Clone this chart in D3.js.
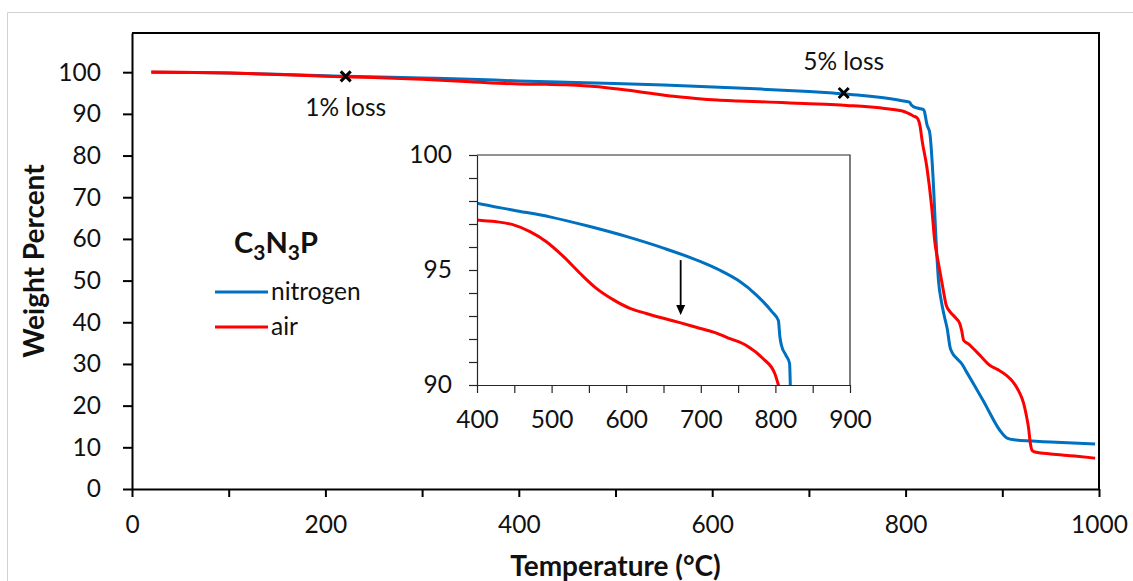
<!DOCTYPE html>
<html>
<head>
<meta charset="utf-8">
<script src="https://cdn.jsdelivr.net/npm/d3@7"></script>
<style>
  html, body { margin: 0; padding: 0; background: #fff; }
  svg { display: block; font-family: Lato, "Open Sans", sans-serif; }
  .tick text { fill: #111; }
</style>
</head>
<body>
<script>
// TGA of C3N3P: weight percent vs temperature, under nitrogen and under air
const nitrogenTemp = [20, 50, 100, 150, 200, 221, 300, 350, 400, 449, 499, 550, 601, 651, 700, 725, 750, 775, 795, 804, 806, 808, 814, 819, 820, 822, 825, 829, 831, 834, 837, 840, 843, 846, 848, 853, 858, 863, 880, 900, 905, 912, 950, 996];
const nitrogenWeight = [100, 99.95, 99.8, 99.5, 99.15, 99.0, 98.6, 98.3, 97.9, 97.6, 97.3, 96.9, 96.45, 95.94, 95.36, 95.0, 94.55, 93.9, 93.2, 92.8, 92.1, 91.74, 91.3, 90.94, 90.0, 87.5, 85.4, 72.0, 62.0, 50.0, 45.0, 41.5, 38.5, 34.0, 32.8, 31.3, 30.1, 28.1, 21.3, 13.3, 12.2, 11.8, 11.3, 10.8];

const airTemp = [20, 50, 100, 150, 200, 250, 300, 350, 400, 426, 449, 471, 493, 516, 538, 560, 583, 605, 627, 650, 672, 695, 717, 739, 761, 783, 799, 804, 808, 812, 815, 817, 822, 827, 830, 834, 839, 842, 846, 852, 856, 858, 860, 865, 870, 878, 887, 895, 904, 911, 917, 922, 925, 927, 929, 931, 935, 950, 975, 996];
const airWeight = [100.05, 100, 99.8, 99.45, 99.0, 98.7, 98.3, 97.7, 97.17, 97.1, 96.96, 96.67, 96.23, 95.58, 94.86, 94.2, 93.7, 93.33, 93.11, 92.9, 92.71, 92.5, 92.3, 92.02, 91.72, 91.16, 90.51, 90.0, 89.5, 89.0, 87.0, 83.7, 77.2, 67.6, 59.7, 54.1, 47.7, 44.1, 42.5, 41.0, 39.7, 38.0, 35.7, 34.8, 33.7, 31.8, 29.7, 28.7, 27.3, 25.7, 23.5, 20.6, 17.5, 14.9, 11.0, 9.2, 8.8, 8.4, 7.9, 7.4];

// loss markers: [temperature, weight, label]
const lossMarks = [[221, 99, "1% loss"], [736, 95, "5% loss"]];

// axis ticks
const mainXTicks = d3.range(0, 1001, 100);
const mainYTicks = d3.range(0, 101, 10);
const insetXTicks = d3.range(400, 901, 50);
const insetYTicks = d3.range(90, 100.01, 1);

// arrow inside the zoomed panel: [temperature, from weight, to weight]
const shiftArrow = [673, 95.43, 93.04];

const series = [
  { name: "nitrogen", temp: nitrogenTemp, weight: nitrogenWeight, color: "#0070C0" },
  { name: "air", temp: airTemp, weight: airWeight, color: "#FF0000" }
];

const FS = 24.5;      // regular text size
const FS_TITLE = 28;  // axis titles

const W = 1133, H = 581;
const svg = d3.select("body").append("svg").attr("width", W).attr("height", H);

// outer chart border
svg.append("path").attr("d", "M7.5,600 V12.5 H1140").attr("fill", "none").attr("stroke", "#d0d0d0").attr("stroke-width", 1);

// ---------- main plot ----------
const x = d3.scaleLinear().domain([0, 1000]).range([132, 1099]);
const y = d3.scaleLinear().domain([0, 109.4]).range([489, 33]);

const lineMain = s => d3.line().curve(d3.curveMonotoneX)
  .x((d, i) => x(s.temp[i])).y((d, i) => y(s.weight[i]))(s.temp);

series.forEach(s => {
  svg.append("path").attr("d", lineMain(s)).attr("fill", "none")
    .attr("stroke", s.color).attr("stroke-width", 3).attr("stroke-linejoin", "round");
});

// frame (top, right)
svg.append("path").attr("d", `M${x(0)},${y.range()[1]} H${x(1000)} V${y(0)}`)
  .attr("fill", "none").attr("stroke", "#000").attr("stroke-width", 2);

const yAxis = svg.append("g").attr("transform", `translate(${x(0)},0)`)
  .call(d3.axisLeft(y).tickValues(mainYTicks).tickSize(9).tickSizeOuter(0).tickPadding(22).tickFormat(d3.format("d")));
const xAxis = svg.append("g").attr("transform", `translate(0,${y(0)})`)
  .call(d3.axisBottom(x).tickValues(mainXTicks).tickSize(8).tickSizeOuter(0).tickPadding(19)
    .tickFormat(d => d % 200 === 0 ? d : ""));
[yAxis, xAxis].forEach(g => {
  g.select(".domain").attr("stroke", "#000").attr("stroke-width", 2);
  g.selectAll(".tick line").attr("stroke", "#000").attr("stroke-width", 2);
  g.selectAll(".tick text").attr("font-size", FS).attr("font-family", "Lato, sans-serif");
});

// axis titles
svg.append("text").attr("x", (x(0) + x(1000)) / 2).attr("y", 576).attr("text-anchor", "middle")
  .attr("font-size", FS_TITLE).attr("font-weight", "bold").attr("fill", "#111").text("Temperature (°C)");
svg.append("text").attr("transform", `translate(44,${(y(0) + y.range()[1]) / 2}) rotate(-90)`)
  .attr("text-anchor", "middle").attr("font-size", FS_TITLE).attr("font-weight", "bold").attr("fill", "#111")
  .text("Weight Percent");

// loss markers and labels
lossMarks.forEach(([t, w, label], i) => {
  const cx = x(t), cy = y(w), r = 5;
  svg.append("path").attr("d", `M${cx - r},${cy - r} L${cx + r},${cy + r} M${cx - r},${cy + r} L${cx + r},${cy - r}`)
    .attr("stroke", "#000").attr("stroke-width", 3);
  svg.append("text").attr("x", cx).attr("y", i === 0 ? cy + 40 : cy - 23).attr("text-anchor", "middle")
    .attr("font-size", FS).attr("fill", "#111").text(label);
});

// compound name and legend
const title = svg.append("text").attr("x", 234).attr("y", 253).attr("font-size", 29).attr("font-weight", "bold").attr("fill", "#111");
title.append("tspan").text("C");
title.append("tspan").attr("font-size", 21).attr("dy", 7).text("3");
title.append("tspan").attr("dy", -7).text("N");
title.append("tspan").attr("font-size", 21).attr("dy", 7).text("3");
title.append("tspan").attr("dy", -7).text("P");

series.forEach((s, i) => {
  const ly = 292 + i * 35;
  svg.append("line").attr("x1", 215).attr("x2", 268).attr("y1", ly).attr("y2", ly)
    .attr("stroke", s.color).attr("stroke-width", 3);
  svg.append("text").attr("x", 271).attr("y", ly + 8).attr("font-size", FS).attr("fill", "#111").text(s.name);
});

// ---------- zoomed panel ----------
const xi = d3.scaleLinear().domain([400, 900]).range([477, 850]);
const yi = d3.scaleLinear().domain([90, 100]).range([385, 155]);

const inset = svg.append("g");
inset.append("rect").attr("x", xi(400)).attr("y", yi(100)).attr("width", xi(900) - xi(400)).attr("height", yi(90) - yi(100)).attr("fill", "#fff");
svg.append("clipPath").attr("id", "insetClip").append("rect")
  .attr("x", xi(400)).attr("y", yi(100)).attr("width", xi(900) - xi(400)).attr("height", yi(90) - yi(100));

const lineInset = s => d3.line().curve(d3.curveMonotoneX)
  .x((d, i) => xi(s.temp[i])).y((d, i) => yi(s.weight[i]))(s.temp);
const insetLines = inset.append("g").attr("clip-path", "url(#insetClip)");
series.forEach(s => {
  insetLines.append("path").attr("d", lineInset(s)).attr("fill", "none")
    .attr("stroke", s.color).attr("stroke-width", 3).attr("stroke-linejoin", "round");
});

inset.append("path").attr("d", `M${xi(400)},${yi(100)} H${xi(900)} V${yi(90)}`)
  .attr("fill", "none").attr("stroke", "#262626").attr("stroke-width", 1.2);
const yiAxis = inset.append("g").attr("transform", `translate(${xi(400)},0)`)
  .call(d3.axisLeft(yi).tickValues(insetYTicks).tickSize(8).tickSizeOuter(0).tickPadding(17)
    .tickFormat(d => Math.round(d) % 5 === 0 ? d3.format("d")(d) : ""));
const xiAxis = inset.append("g").attr("transform", `translate(0,${yi(90)})`)
  .call(d3.axisBottom(xi).tickValues(insetXTicks).tickSize(8).tickSizeOuter(0).tickPadding(18)
    .tickFormat(d => d % 100 === 0 ? d : ""));
[yiAxis, xiAxis].forEach(g => {
  g.select(".domain").attr("stroke", "#262626").attr("stroke-width", 1.2);
  g.selectAll(".tick line").attr("stroke", "#262626").attr("stroke-width", 1.2);
  g.selectAll(".tick text").attr("font-size", FS).attr("font-family", "Lato, sans-serif");
});

// arrow showing the drop from nitrogen to air
const [at, aw0, aw1] = shiftArrow;
inset.append("line").attr("x1", xi(at)).attr("x2", xi(at)).attr("y1", yi(aw0)).attr("y2", yi(aw1) - 8)
  .attr("stroke", "#000").attr("stroke-width", 1.8);
inset.append("path")
  .attr("d", `M${xi(at) - 4.5},${yi(aw1) - 10} L${xi(at) + 4.5},${yi(aw1) - 10} L${xi(at)},${yi(aw1)} Z`)
  .attr("fill", "#000");
</script>
</body>
</html>
